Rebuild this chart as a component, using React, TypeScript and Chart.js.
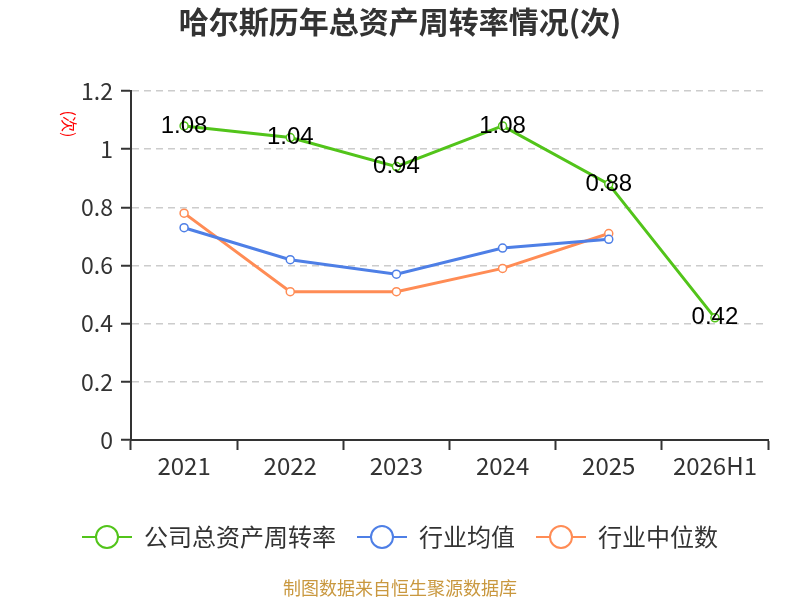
import React, { useEffect, useRef } from "react";
import { Chart, registerables } from "chart.js";

Chart.register(...registerables);

const categories = ["2021", "2022", "2023", "2024", "2025", "2026H1"];
const companyTurnover = [1.08, 1.04, 0.94, 1.08, 0.88, 0.42];
const industryMean = [0.73, 0.62, 0.57, 0.66, 0.69, null];
const industryMedian = [0.78, 0.51, 0.51, 0.59, 0.71, null];
const yTickValues = [0, 0.2, 0.4, 0.6, 0.8, 1, 1.2];
const seriesNames = ["公司总资产周转率", "行业均值", "行业中位数"];
const seriesColors = ["#52c41a", "#4e7fe6", "#ff8c55"];
const titleText = "哈尔斯历年总资产周转率情况(次)";
const yAxisTitle = "(次)";
const footerText = "制图数据来自恒生聚源数据库";

const CJK = '"Noto Sans CJK SC", "Noto Sans", sans-serif';

function makeLegendIcon(color: string): HTMLCanvasElement {
  const c = document.createElement("canvas");
  c.width = 50;
  c.height = 26;
  const ctx = c.getContext("2d")!;
  ctx.strokeStyle = color;
  ctx.lineWidth = 2;
  ctx.beginPath();
  ctx.moveTo(0, 13);
  ctx.lineTo(50, 13);
  ctx.stroke();
  ctx.beginPath();
  ctx.arc(25, 13, 11, 0, Math.PI * 2);
  ctx.fillStyle = "#ffffff";
  ctx.fill();
  ctx.stroke();
  return c;
}

const extrasPlugin = {
  id: "extras",
  afterLayout(chart: any) {
    // center title, legend and footer on the full canvas width
    chart.boxes.forEach((b: any) => {
      if (b === chart.legend || b === chart.titleBlock || (b.options && b.options.text === footerText)) {
        b.left = 0;
        b.right = chart.width;
        b.width = chart.width;
      }
    });
  },
  afterDatasetsDraw(chart: any) {
    const ctx = chart.ctx;
    const meta = chart.getDatasetMeta(0);
    ctx.save();
    ctx.font = '24px "Liberation Sans", Arial, sans-serif';
    ctx.fillStyle = "#000";
    ctx.textAlign = "center";
    ctx.textBaseline = "middle";
    meta.data.forEach((pt: any, i: number) => {
      const v = companyTurnover[i];
      if (v == null) return;
      ctx.fillText(String(v), pt.x, pt.y);
    });
    ctx.restore();
  },
  afterDraw(chart: any) {
    const ctx = chart.ctx;
    ctx.save();
    ctx.translate(69, 124);
    ctx.rotate(Math.PI / 2);
    ctx.font = "16px " + CJK;
    ctx.fillStyle = "#ff0000";
    ctx.textAlign = "center";
    ctx.textBaseline = "middle";
    ctx.fillText(yAxisTitle, 0, 0);
    ctx.restore();
  },
};

export default function App() {
  const ref = useRef<HTMLCanvasElement>(null);

  useEffect(() => {
    document.body.style.margin = "0";
    const icons = seriesColors.map(makeLegendIcon);
    const mk = (label: string, data: any[], color: string) => ({
      label,
      data,
      borderColor: color,
      backgroundColor: color,
      borderWidth: 3,
      pointRadius: 4,
      pointBorderWidth: 1.5,
      pointBackgroundColor: "#ffffff",
      pointBorderColor: color,
      pointStyle: "circle",
      tension: 0,
      spanGaps: false,
    });
    const chart = new Chart(ref.current!, {
      type: "line",
      data: {
        labels: categories,
        datasets: [
          mk(seriesNames[0], companyTurnover, seriesColors[0]),
          mk(seriesNames[1], industryMean, seriesColors[1]),
          mk(seriesNames[2], industryMedian, seriesColors[2]),
        ],
      },
      options: {
        animation: false,
        responsive: false,
        devicePixelRatio: 1,
        layout: { padding: { left: 0, right: 32, top: 0, bottom: 0 } },
        scales: {
          x: {
            offset: true,
            grid: {
              display: true,
              drawOnChartArea: false,
              drawTicks: true,
              tickLength: 10,
              tickColor: "#333",
              tickWidth: 2,
              offset: true,
            },
            border: { display: true, color: "#333", width: 2 },
            ticks: {
              color: "#333",
              font: { size: 24, family: CJK },
              padding: 1,
            },
            afterFit(scale: any) {
              scale.height = 64;
            },
          },
          y: {
            min: 0,
            max: 1.2,
            afterBuildTicks(scale: any) {
              scale.ticks = yTickValues.map((v) => ({ value: v }));
            },
            grid: {
              color: "#cccccc",
              lineWidth: 1.5,
              drawTicks: true,
              tickLength: 10,
              tickColor: "#333",
              tickWidth: 2,
              tickBorderDash: [],
            },
            border: { display: true, color: "#333", width: 2, dash: [7, 5] },
            ticks: {
              color: "#333",
              font: { size: 23, family: CJK },
              padding: 8,
              callback: (v: any) => String(v),
            },
            afterFit(scale: any) {
              scale.width = 131;
            },
          },
        },
        plugins: {
          title: {
            display: true,
            text: titleText,
            color: "#333",
            font: { size: 30, weight: "bold", family: CJK },
            padding: { top: 4, bottom: 51 },
          },
          subtitle: {
            display: true,
            text: footerText,
            position: "bottom",
            color: "#c9983f",
            font: { size: 18, family: CJK },
            padding: { top: 18.4, bottom: 1 },
          },
          legend: {
            display: true,
            position: "bottom",
            labels: {
              usePointStyle: true,
              pointStyleWidth: 50,
              padding: 21,
              color: "#333",
              font: { size: 24, family: CJK },
              generateLabels(chart: any) {
                const base = Chart.defaults.plugins.legend.labels.generateLabels(chart);
                return base.map((item: any, i: number) => ({ ...item, pointStyle: icons[i] }));
              },
            },
          },
          tooltip: { enabled: false },
        },
      },
      plugins: [extrasPlugin],
    } as any);
    return () => chart.destroy();
  }, []);

  return (
    <div style={{ width: 800, height: 600 }}>
      <canvas ref={ref} width={800} height={600} style={{ display: "block" }} />
    </div>
  );
}
